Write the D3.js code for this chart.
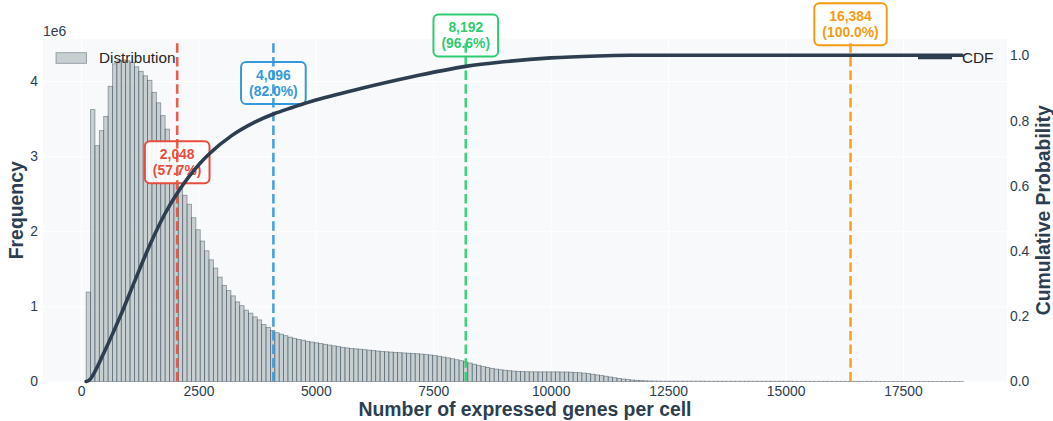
<!DOCTYPE html>
<html><head><meta charset="utf-8">
<script src="https://cdn.jsdelivr.net/npm/d3@7"></script>
<style>
body{margin:0;background:#fff;}
svg{display:block;font-family:"Liberation Sans",Arial,Helvetica,sans-serif;}
</style>
</head><body>
<svg id="c" width="1053" height="421"></svg>
<script>
// ---------- data ----------
const binMin = 110, binMax = 18790;           // histogram range (genes per cell)
const countsMillions = [
 1.19, 3.62, 3.14, 3.34, 3.53, 3.93, 4.23, 4.27, 4.28, 4.27,
 4.25, 4.19, 4.13, 4.07, 4.01, 3.85, 3.71, 3.54, 3.36, 3.12,
 2.88, 2.59, 2.48, 2.36, 2.18, 2.02, 1.87, 1.74, 1.62, 1.51,
 1.39, 1.28, 1.21, 1.14, 1.06, 1.01, 0.95, 0.91, 0.86, 0.82,
 0.76, 0.72, 0.68, 0.65, 0.63, 0.61, 0.59, 0.575, 0.56, 0.55,
 0.535, 0.525, 0.515, 0.505, 0.495, 0.485, 0.475, 0.465, 0.455, 0.447,
 0.44, 0.435, 0.43, 0.424, 0.418, 0.412, 0.406, 0.40, 0.396, 0.392,
 0.388, 0.384, 0.38, 0.377, 0.374, 0.37, 0.365, 0.36, 0.353, 0.345,
 0.336, 0.326, 0.315, 0.303, 0.29, 0.277, 0.262, 0.246, 0.23, 0.215,
 0.2, 0.187, 0.175, 0.165, 0.157, 0.15, 0.144, 0.139, 0.135, 0.132,
 0.13, 0.129, 0.128, 0.128, 0.128, 0.128, 0.128, 0.128, 0.127, 0.126,
 0.124, 0.121, 0.117, 0.112, 0.105, 0.097, 0.088, 0.079, 0.07, 0.06,
 0.05, 0.041, 0.033, 0.026, 0.02, 0.016, 0.012, 0.009, 0.007, 0.006,
 0.005, 0.004, 0.004, 0.004, 0.004, 0.004, 0.004, 0.004, 0.004, 0.004,
 0.004, 0.003, 0.003, 0.003, 0.003, 0.003, 0.003, 0.003, 0.003, 0.003,
 0.003, 0.003, 0.003, 0.003, 0.003, 0.003, 0.003, 0.003, 0.003, 0.003,
 0.003, 0.002, 0.002, 0.002, 0.002, 0.002, 0.002, 0.002, 0.002, 0.002,
 0.002, 0.002, 0.002, 0.002, 0.002, 0.002, 0.002, 0.002, 0.002, 0.002,
 0.002, 0.001, 0.001, 0.001, 0.001, 0.001, 0.001, 0.001, 0.001, 0.001,
 0.001, 0.001, 0.001, 0.001, 0.001, 0.001, 0.001, 0.001, 0.001, 0.001
];
const cdfGenes = [110, 190, 510, 830, 1150, 1470, 1790, 2048, 2320, 2710, 3200, 3700, 4096, 4500, 5000, 6000, 7000, 8192, 9000, 10000, 11000, 11700, 12500, 18760];
const cdfProb  = [0, 0.006, 0.095, 0.198, 0.31, 0.42, 0.515, 0.577, 0.632, 0.695, 0.753, 0.795, 0.82, 0.840, 0.863, 0.900, 0.933, 0.966, 0.980, 0.992, 0.998, 1.0, 1.0, 1.0];
const thresholds = [2048, 4096, 8192, 16384];
const thresholdPct = [57.7, 82.0, 96.6, 100.0];
const thresholdColors = ["#e74c3c", "#3498db", "#2ecc71", "#f39c12"];
const xTicks = [0, 2500, 5000, 7500, 10000, 12500, 15000, 17500];
const yTicks = [0, 1, 2, 3, 4];
const y2Ticks = [0, 0.2, 0.4, 0.6, 0.8, 1.0];

// ---------- layout ----------
const P = {l: 43, r: 1007, t: 39, b: 381.5};
const svg = d3.select("#c");
const x = d3.scaleLinear().domain([-809, 19715]).range([P.l, P.r]);
const y = d3.scaleLinear().domain([0, 4.56]).range([P.b, P.t]);
const y2 = d3.scaleLinear().domain([0, 1.05]).range([P.b, P.t]);
const dark = "#2c3e50";

svg.append("defs").append("clipPath").attr("id", "clip")
  .append("rect").attr("x", P.l).attr("y", P.t).attr("width", P.r - P.l).attr("height", P.b - P.t);

svg.append("rect").attr("x", P.l).attr("y", P.t).attr("width", P.r - P.l).attr("height", P.b - P.t)
  .attr("fill", "#f8f9fa");

// grid
const gx = svg.append("g").attr("transform", `translate(0,${P.b})`)
  .call(d3.axisBottom(x).tickValues(xTicks).tickSize(-(P.b - P.t)).tickFormat(""));
const gy = svg.append("g").attr("transform", `translate(${P.l},0)`)
  .call(d3.axisLeft(y).tickValues(yTicks).tickSize(-(P.r - P.l)).tickFormat(""));
[gx, gy].forEach(g => { g.select(".domain").remove(); g.selectAll("line").attr("stroke", "#ffffff").attr("stroke-width", 1); });

// histogram
const binW = (binMax - binMin) / countsMillions.length;
const bins = countsMillions.map((c, i) => ({x0: binMin + i * binW, x1: binMin + (i + 1) * binW, v: c}));
svg.append("g").selectAll("rect").data(bins).join("rect")
  .attr("x", d => x(d.x0)).attr("width", d => x(d.x1) - x(d.x0))
  .attr("y", d => y(d.v)).attr("height", d => y(0) - y(d.v))
  .attr("fill", "#95a5a6").attr("fill-opacity", 0.5)
  .attr("stroke", dark).attr("stroke-opacity", 0.5).attr("stroke-width", 0.8);

// annotation boxes (below lines)
const ann = svg.append("g");
thresholds.forEach((t, i) => {
  const cx = x(t), cy = y2(thresholdPct[i] / 100) - 31;
  const g = ann.append("g");
  const rect = g.append("rect");
  const t1 = g.append("text").attr("x", cx).attr("y", cy - 8).attr("dy", "0.35em")
    .attr("text-anchor", "middle").attr("font-weight", "bold").attr("font-size", 13.9)
    .attr("fill", thresholdColors[i]).text(d3.format(",")(t));
  const t2 = g.append("text").attr("x", cx).attr("y", cy + 8).attr("dy", "0.35em")
    .attr("text-anchor", "middle").attr("font-weight", "bold").attr("font-size", 13.9)
    .attr("fill", thresholdColors[i]).text(`(${thresholdPct[i].toFixed(1)}%)`);
  const w = Math.max(t1.node().getComputedTextLength(), t2.node().getComputedTextLength()) + 16;
  const h = 42;
  rect.attr("x", cx - w / 2).attr("y", cy - h / 2).attr("width", w).attr("height", h)
    .attr("rx", 5).attr("fill", "#ffffff").attr("fill-opacity", 0.9)
    .attr("stroke", thresholdColors[i]).attr("stroke-width", 2);
});

// threshold lines
svg.append("g").attr("clip-path", "url(#clip)").selectAll("line").data(thresholds).join("line")
  .attr("x1", d => x(d)).attr("x2", d => x(d)).attr("y1", P.b).attr("y2", P.t)
  .attr("stroke", (d, i) => thresholdColors[i]).attr("stroke-width", 2.6)
  .attr("stroke-dasharray", "9.5,4.2").attr("stroke-opacity", 0.9);

// CDF line
const cdfData = cdfGenes.map((g, i) => [g, cdfProb[i]]);
svg.append("path").datum(cdfData)
  .attr("d", d3.line().x(d => x(d[0])).y(d => y2(d[1])).curve(d3.curveCatmullRom.alpha(0.5)))
  .attr("fill", "none").attr("stroke", dark).attr("stroke-width", 3.6)
  .attr("stroke-linejoin", "round").attr("stroke-linecap", "round");

// axes labels
const tickColor = "#2c3e50";
const ax = svg.append("g").attr("transform", `translate(0,${P.b})`)
  .call(d3.axisBottom(x).tickValues(xTicks).tickSize(0).tickPadding(5).tickFormat(d3.format("d")));
const ay = svg.append("g").attr("transform", `translate(${P.l},0)`)
  .call(d3.axisLeft(y).tickValues(yTicks).tickSize(0).tickPadding(5).tickFormat(d3.format("d")));
const ay2 = svg.append("g").attr("transform", `translate(${P.r},0)`)
  .call(d3.axisRight(y2).tickValues(y2Ticks).tickSize(0).tickPadding(3).tickFormat(d3.format(".1f")));
[ax, ay, ay2].forEach(g => {
  g.select(".domain").remove();
  g.selectAll("text").attr("font-size", 13.9).attr("fill", tickColor)
    .attr("font-family", '"Liberation Sans",Arial,sans-serif');
});

svg.append("text").attr("x", P.l).attr("y", 31).attr("dy", "0.35em").attr("font-size", 13.9)
  .attr("fill", tickColor).text("1e6");

svg.append("text").attr("x", (P.l + P.r) / 2).attr("y", 416).attr("text-anchor", "middle")
  .attr("font-size", 19.4).attr("font-weight", "bold").attr("fill", dark)
  .text("Number of expressed genes per cell");
svg.append("text").attr("transform", `translate(23,${(P.t + P.b) / 2}) rotate(-90)`)
  .attr("text-anchor", "middle").attr("font-size", 19.4).attr("font-weight", "bold").attr("fill", dark)
  .text("Frequency");
svg.append("text").attr("transform", `translate(1050,${(P.t + P.b) / 2}) rotate(-90)`)
  .attr("text-anchor", "middle").attr("font-size", 19.4).attr("font-weight", "bold").attr("fill", dark)
  .text("Cumulative Probability");

// legends
const lg = svg.append("g");
lg.append("rect").attr("x", 56).attr("y", 52.7).attr("width", 30.5).attr("height", 10.6)
  .attr("fill", "#95a5a6").attr("fill-opacity", 0.5)
  .attr("stroke", dark).attr("stroke-opacity", 0.5).attr("stroke-width", 0.8);
lg.append("text").attr("x", 99).attr("y", 58).attr("dy", "0.35em").attr("font-size", 15.3)
  .attr("fill", "#262626").text("Distribution");
lg.append("line").attr("x1", 918).attr("x2", 952).attr("y1", 57.5).attr("y2", 57.5)
  .attr("stroke", dark).attr("stroke-width", 3.6);
lg.append("text").attr("x", 962).attr("y", 58).attr("dy", "0.35em").attr("font-size", 15.3)
  .attr("fill", "#262626").text("CDF");
</script>
</body></html>
